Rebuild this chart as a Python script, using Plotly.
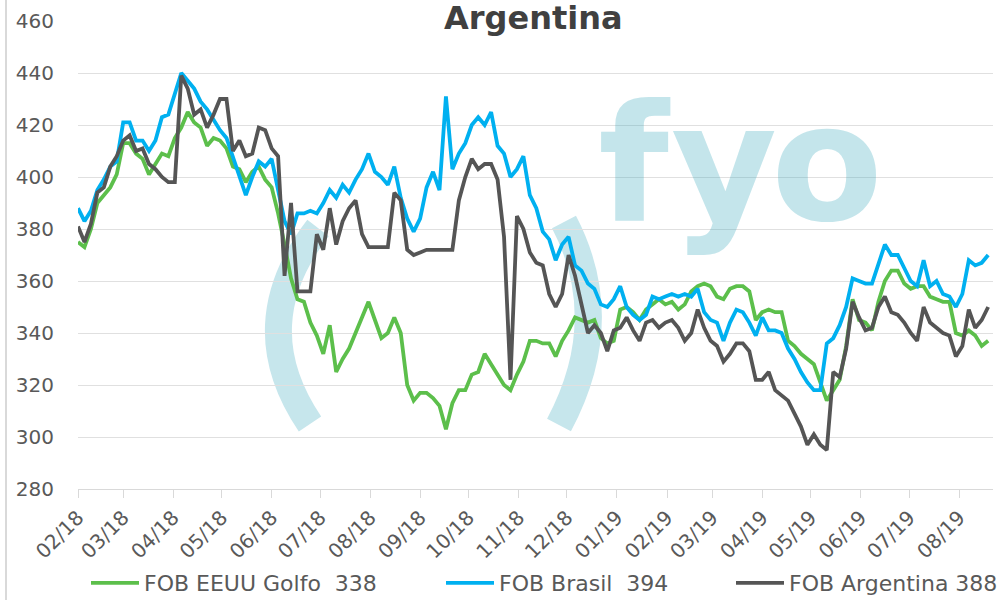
import pandas as pd
import plotly.graph_objects as go

# ---- data (one point every 4 days from 1 Feb 2018) ----
start_date = "2018-02-01"
step = "4D"

fob_eeuu_golfo = [
    375, 373, 380, 390, 393, 396, 401, 413, 413, 409, 407, 401, 405, 409, 408, 415, 419, 425, 421, 419,
    412, 415, 414, 411, 404, 403, 398, 402, 404, 399, 396, 386, 374, 361, 353, 352, 344, 339, 332, 343,
    325, 330, 334, 340, 346, 352, 345, 338, 340, 346, 340, 320, 314, 317, 317, 315, 312, 303, 313, 318,
    318, 324, 325, 332, 328, 324, 320, 318, 324, 329, 337, 337, 336, 336, 331, 337, 341, 346, 345, 344,
    345, 338, 336, 337, 349, 350, 348, 345, 349, 351, 353, 351, 352, 349, 351, 356, 358, 359, 358, 354,
    353, 357, 358, 358, 356, 345, 348, 349, 348, 348, 337, 335, 332, 330, 328, 321, 314, 318, 322, 335,
    353, 345, 344, 341, 352, 360, 364, 364, 359, 357, 358, 358, 354, 353, 352, 352, 340, 339, 341, 339,
    335, 337,
]

fob_brasil = [
    388, 383, 387, 395, 399, 404, 406, 421, 421, 414, 414, 410, 414, 423, 424, 432, 440, 437, 434, 429,
    426, 422, 418, 415, 408, 400, 393, 400, 406, 404, 407, 395, 383, 378, 386, 386, 387, 386, 390, 395,
    392, 397, 394, 399, 403, 409, 402, 400, 397, 404, 392, 384, 379, 384, 396, 402, 395, 431, 403, 409,
    413, 420, 423, 420, 425, 412, 409, 400, 403, 408, 393, 388, 379, 376, 368, 374, 377, 366, 364, 359,
    357, 351, 350, 353, 358, 350, 347, 345, 347, 354, 353, 354, 355, 354, 355, 354, 357, 348, 345, 344,
    337, 344, 349, 348, 344, 339, 346, 341, 341, 340, 334, 330, 325, 321, 318, 318, 336, 338, 343, 350,
    361, 360, 359, 359, 366, 374, 370, 370, 365, 360, 358, 368, 358, 360, 355, 354, 350, 355, 368, 366,
    367, 370,
]

fob_argentina = [
    381, 375, 382, 394, 396, 404, 408, 414, 416, 410, 411, 405, 403, 400, 398, 398, 439, 434, 424, 426,
    419, 424, 430, 430, 410, 414, 408, 409, 419, 418, 411, 408, 362, 390, 356, 356, 356, 378, 372, 388,
    374, 383, 388, 391, 378, 373, 373, 373, 373, 394, 391, 372, 370, 371, 372, 372, 372, 372, 372, 391,
    400, 407, 403, 405, 405, 399, 377, 322, 385, 380, 371, 367, 366, 355, 350, 355, 370, 362, 351, 340,
    343, 340, 333, 341, 342, 346, 341, 337, 344, 345, 342, 344, 345, 342, 337, 340, 349, 342, 337, 335,
    329, 332, 336, 336, 333, 322, 322, 325, 318, 316, 314, 309, 304, 297, 301, 297, 295, 325, 323, 334,
    352, 346, 341, 342, 350, 354, 348, 347, 344, 340, 337, 350, 344, 342, 340, 339, 331, 335, 349, 342,
    345, 350,
]

series_names = ["FOB EEUU Golfo\u00a0\u00a0338", "FOB Brasil\u00a0\u00a0394", "FOB Argentina 388"]
series_colors = ["#5cbf4b", "#00b0f0", "#555555"]
title_text = "Argentina"

dates = pd.date_range(start_date, periods=len(fob_brasil), freq=step)

# ---- layout geometry (pixels) ----
W, H = 1003, 600
ML, MR, MT, MB = 78, 10, 21, 111
PW = W - ML - MR
PH = H - MT - MB


def px_x(x):
    return (x - ML) / PW


def px_y(y):
    return (H - MB - y) / PH


fig = go.Figure()

legend_ids = ["legend", "legend2", "legend3"]
for vals, name, color, lg in zip([fob_eeuu_golfo, fob_brasil, fob_argentina],
                                 series_names, series_colors, legend_ids):
    fig.add_trace(go.Scatter(
        x=dates, y=vals, name=name, mode="lines",
        line=dict(color=color, width=3.8),
        legend=lg,
    ))

font_family = "DejaVu Sans"
text_color = "#595959"
wm_color = "rgb(198,230,236)"
wm_font = dict(family=font_family, size=163, color="rgba(60,170,190,0.30)")

shapes = [
    # "(" and ")" of the watermark
    dict(type="path", xref="paper", yref="paper", layer="below",
         path=f"M {px_x(318)},{px_y(228)} Q {px_x(243)},{px_y(325)} {px_x(310)},{px_y(424)}",
         line=dict(color=wm_color, width=27)),
    dict(type="path", xref="paper", yref="paper", layer="below",
         path=f"M {px_x(564)},{px_y(222)} Q {px_x(615)},{px_y(320)} {px_x(559)},{px_y(425)}",
         line=dict(color=wm_color, width=27)),
    # chart border on the left
    dict(type="line", xref="paper", yref="paper", layer="below",
         x0=px_x(6), x1=px_x(6), y0=px_y(600), y1=px_y(0),
         line=dict(color="#d9d9d9", width=2)),
]

annotations = [
    dict(text=f"<b>{title_text}</b>", xref="paper", yref="paper", x=px_x(533), y=px_y(-3),
         xanchor="center", yanchor="top", showarrow=False,
         font=dict(family=font_family, size=32, color="#404040")),
]
for letter, cx in zip(["f", "y", "o"], [634, 724, 827]):
    annotations.append(dict(text=f"<b>{letter}</b>", xref="paper", yref="paper",
                            x=px_x(cx), y=px_y(163), xanchor="center", yanchor="middle",
                            showarrow=False, borderpad=0, font=wm_font))

legend_common = dict(orientation="h", yanchor="middle", y=px_y(583), xanchor="left",
                     font=dict(family=font_family, size=22, color=text_color),
                     bgcolor="rgba(0,0,0,0)", itemwidth=48, borderwidth=0)

fig.update_layout(
    width=W, height=H,
    margin=dict(l=ML, r=MR, t=MT, b=MB, autoexpand=False),
    paper_bgcolor="white", plot_bgcolor="white",
    font=dict(family=font_family, size=20, color=text_color),
    showlegend=True,
    legend=dict(x=px_x(86), **legend_common),
    legend2=dict(x=px_x(441), **legend_common),
    legend3=dict(x=px_x(731), **legend_common),
    shapes=shapes,
    annotations=annotations,
    xaxis=dict(
        type="date", range=["2018-02-01", "2019-08-22"],
        tick0="2018-02-01", dtick="M1", tickformat="%m/%y",
        tickangle=-45, ticks="outside", ticklen=8, tickcolor="#d9d9d9",
        showgrid=False, showline=True, linecolor="#d9d9d9", linewidth=1,
        tickfont=dict(family=font_family, size=20, color=text_color),
        zeroline=False, automargin=False,
    ),
    yaxis=dict(
        range=[280, 460], dtick=20, tick0=280,
        showgrid=True, gridcolor="#e0e0e0", gridwidth=1,
        showline=False, zeroline=False, ticks="",
        ticklabelstandoff=23, automargin=False,
        tickfont=dict(family=font_family, size=20, color=text_color),
    ),
)

fig.write_html("out.html", config={"displayModeBar": False},
               post_script="document.body.style.margin='0px';")
